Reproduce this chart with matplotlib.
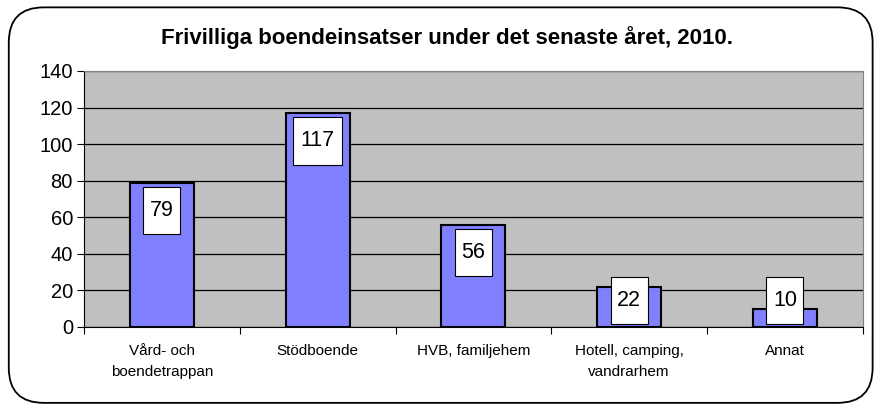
import matplotlib
matplotlib.use("Agg")
import matplotlib.pyplot as plt
from matplotlib.patches import FancyBboxPatch, Rectangle

# Chart data
categories = ["Vård- och\nboendetrappan", "Stödboende", "HVB, familjehem",
              "Hotell, camping,\nvandrarhem", "Annat"]
values = [79, 117, 56, 22, 10]
yticks = [0, 20, 40, 60, 80, 100, 120, 140]
title = "Frivilliga boendeinsatser under det senaste året, 2010."

plt.rcParams['font.family'] = ['Liberation Sans', 'DejaVu Sans']

fig = plt.figure(figsize=(8.77, 4.09), dpi=100)

# rounded frame around the whole chart
frame = FancyBboxPatch((0.010, 0.015), 0.985, 0.967,
                       boxstyle="round,pad=0,rounding_size=0.04",
                       transform=fig.transFigure, facecolor="white",
                       edgecolor="black", linewidth=1.3, mutation_aspect=877/409,
                       zorder=-5)
fig.patches.append(frame)

ax = fig.add_axes([0.0958, 0.2005, 0.888, 0.626])
ax.set_zorder(2)
ax.set_facecolor("#C0C0C0")

x = list(range(len(categories)))
ax.bar(x, values, width=0.41, color="#8080FF", edgecolor="black",
       linewidth=1.5, zorder=3)

ax.set_xlim(-0.5, len(categories) - 0.5)
ax.set_ylim(0, 140)
ax.set_yticks(yticks)
ax.yaxis.grid(True, color="black", linewidth=0.9, zorder=0)
ax.set_axisbelow(True)

# value labels in white boxes
px_per_cat = 0.888 * 877 / len(categories)
for xi, v in zip(x, values):
    s = str(v)
    w = (13 + 12 * len(s)) / px_per_cat
    top = max(v - 2.2, 27.5)
    h = 26
    ax.add_patch(Rectangle((xi - w / 2, top - h), w, h, facecolor="white",
                           edgecolor="black", linewidth=0.8, zorder=4))
    ax.text(xi, top - h / 2, s, ha="center", va="center", fontsize=15.5,
            zorder=5)

# category tick labels, ticks at the boundaries
ax.set_xticks([i - 0.5 for i in range(len(categories) + 1)])
ax.set_xticklabels([])
ax.set_xticks(x, minor=True)
ax.set_xticklabels(categories, minor=True, fontsize=11, linespacing=1.65)
ax.tick_params(axis="x", which="minor", length=0, pad=12)
ax.tick_params(axis="x", which="major", length=5, direction="out")
ax.tick_params(axis="y", length=5, labelsize=14.5, pad=3)

for side in ["top", "right"]:
    ax.spines[side].set_color("#808080")
for side in ["left", "bottom"]:
    ax.spines[side].set_color("black")

fig.text(0.51, 0.908, title, ha="center", va="center", fontsize=16,
         fontweight="bold")

fig.savefig("out.png", dpi=100)
